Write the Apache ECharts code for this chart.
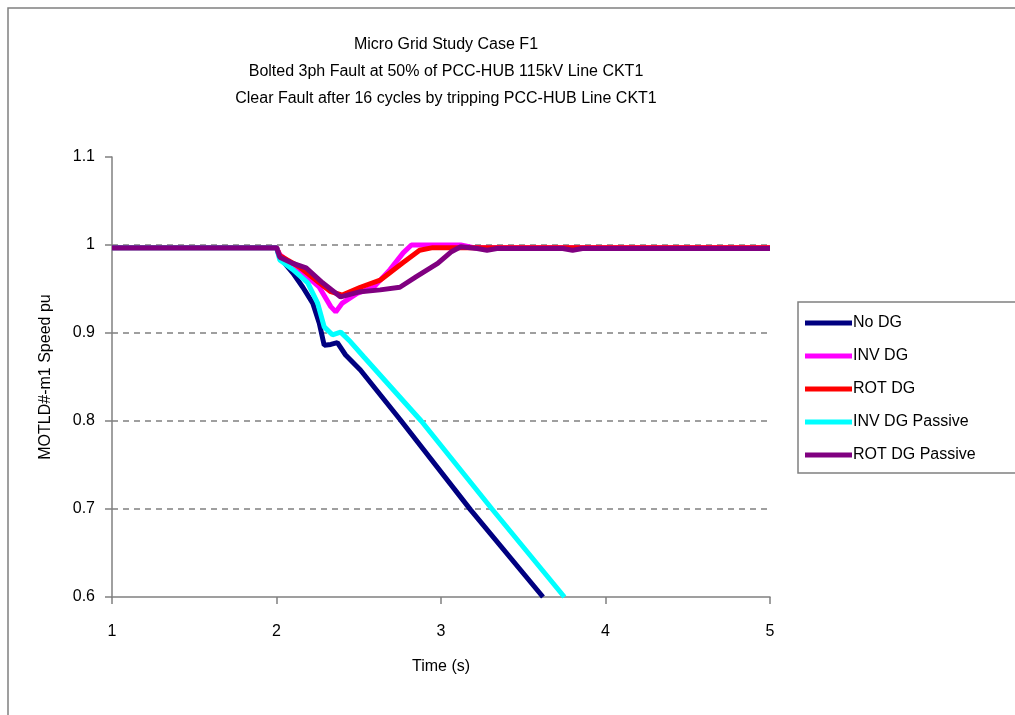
<!DOCTYPE html>
<html>
<head>
<meta charset="utf-8">
<script src="https://cdn.jsdelivr.net/npm/echarts@6/dist/echarts.min.js"></script>
<style>
  html, body { margin: 0; padding: 0; background: #fff; }
  #chart { width: 1015px; height: 715px; }
</style>
</head>
<body>
<div id="chart"></div>
<script>
// series names (legend order)
var seriesNames = ["No DG", "INV DG", "ROT DG", "INV DG Passive", "ROT DG Passive"];
var seriesColors = ["#000080", "#FF00FF", "#FF0000", "#00FFFF", "#800080"];

// time (s) / speed (pu)
var noDgT = [1, 2, 2.02, 2.10, 2.16, 2.22, 2.26, 2.29, 2.33, 2.37, 2.42, 2.51, 2.75, 3.18, 3.62];
var noDgV = [0.997, 0.997, 0.986, 0.968, 0.952, 0.934, 0.911, 0.886, 0.887, 0.889, 0.875, 0.858, 0.802, 0.699, 0.6];

var invDgT = [1, 2, 2.02, 2.14, 2.26, 2.33, 2.36, 2.40, 2.49, 2.59, 2.69, 2.77, 2.82, 3.12, 3.2, 5];
var invDgV = [0.997, 0.997, 0.989, 0.972, 0.952, 0.93, 0.924, 0.934, 0.945, 0.952, 0.972, 0.991, 1.0, 1.0, 0.997, 0.997];

var rotDgT = [1, 2, 2.02, 2.14, 2.26, 2.33, 2.40, 2.51, 2.63, 2.77, 2.87, 2.95, 5];
var rotDgV = [0.997, 0.997, 0.988, 0.975, 0.957, 0.947, 0.943, 0.952, 0.960, 0.980, 0.994, 0.997, 0.997];

var invPasT = [1, 2, 2.02, 2.10, 2.19, 2.25, 2.29, 2.34, 2.39, 2.45, 2.53, 2.88, 3.31, 3.75];
var invPasV = [0.997, 0.997, 0.983, 0.972, 0.957, 0.934, 0.907, 0.898, 0.901, 0.89, 0.873, 0.8, 0.7, 0.6];

var rotPasT = [1, 2, 2.02, 2.10, 2.18, 2.28, 2.39, 2.51, 2.63, 2.75, 2.85, 2.98, 3.06, 3.12, 3.22, 3.28, 3.34, 3.74, 3.80, 3.86, 5];
var rotPasV = [0.997, 0.997, 0.986, 0.979, 0.974, 0.957, 0.941, 0.947, 0.949, 0.952, 0.964, 0.979, 0.992, 0.998, 0.996, 0.994, 0.996, 0.996, 0.994, 0.996, 0.996];

var allT = [noDgT, invDgT, rotDgT, invPasT, rotPasT];
var allV = [noDgV, invDgV, rotDgV, invPasV, rotPasV];

var font = "Liberation Sans, Arial, sans-serif";
var chart = echarts.init(document.getElementById("chart"));

var series = seriesNames.map(function (name, i) {
  return {
    name: name,
    type: "line",
    showSymbol: false,
    symbol: "none",
    data: allT[i].map(function (t, k) { return [t, allV[i][k]]; }),
    lineStyle: { color: seriesColors[i], width: 5 },
    itemStyle: { color: seriesColors[i] },
    animation: false
  };
});

chart.setOption({
  animation: false,
  title: {
    text: "Micro Grid Study Case F1\nBolted 3ph Fault at 50% of PCC-HUB 115kV Line CKT1\nClear Fault after 16 cycles by tripping PCC-HUB Line CKT1",
    left: 441,
    top: 26,
    textAlign: "center",
    textStyle: { fontFamily: font, fontSize: 16, fontWeight: "normal", color: "#000", lineHeight: 27 }
  },
  legend: {
    orient: "vertical",
    left: 800,
    top: 310,
    itemWidth: 47,
    itemHeight: 5,
    itemGap: 17,
    icon: "rect",
    data: seriesNames,
    textStyle: { fontFamily: font, fontSize: 16, color: "#000", padding: [0, 0, 0, -4] }
  },
  graphic: [
    {
      type: "rect",
      shape: { x: 8, y: 8, width: 1100, height: 800 },
      style: { fill: "none", stroke: "#808080", lineWidth: 1.5 },
      silent: true
    },
    {
      type: "rect",
      shape: { x: 798, y: 302, width: 300, height: 171 },
      style: { fill: "none", stroke: "#808080", lineWidth: 1.5 },
      silent: true
    }
  ],
  grid: { left: 112, right: 245, top: 157, bottom: 118 },
  xAxis: {
    type: "value",
    min: 1,
    max: 5,
    interval: 1,
    name: "Time (s)",
    nameLocation: "middle",
    nameGap: 62,
    nameTextStyle: { fontFamily: font, fontSize: 16, color: "#000" },
    axisLine: { show: true, lineStyle: { color: "#808080", width: 1.5 } },
    axisTick: { show: true, length: 7, lineStyle: { color: "#808080", width: 1.5 } },
    axisLabel: { margin: 27, fontFamily: font, fontSize: 16, color: "#000" },
    splitLine: { show: false }
  },
  yAxis: {
    type: "value",
    min: 0.6,
    max: 1.1,
    interval: 0.1,
    name: "MOTLD#-m1 Speed pu",
    nameLocation: "middle",
    nameGap: 58,
    nameTextStyle: { fontFamily: font, fontSize: 16, color: "#000" },
    axisLine: { show: true, lineStyle: { color: "#808080", width: 1.5 } },
    axisTick: { show: true, length: 7, lineStyle: { color: "#808080", width: 1.5 } },
    axisLabel: { margin: 17, fontFamily: font, fontSize: 16, color: "#000" },
    splitLine: {
      show: true,
      lineStyle: {
        type: [6, 5],
        width: 1.5,
        color: ["transparent", "#808080", "#808080", "#808080", "#808080", "transparent"]
      }
    }
  },
  series: series
});
</script>
</body>
</html>
